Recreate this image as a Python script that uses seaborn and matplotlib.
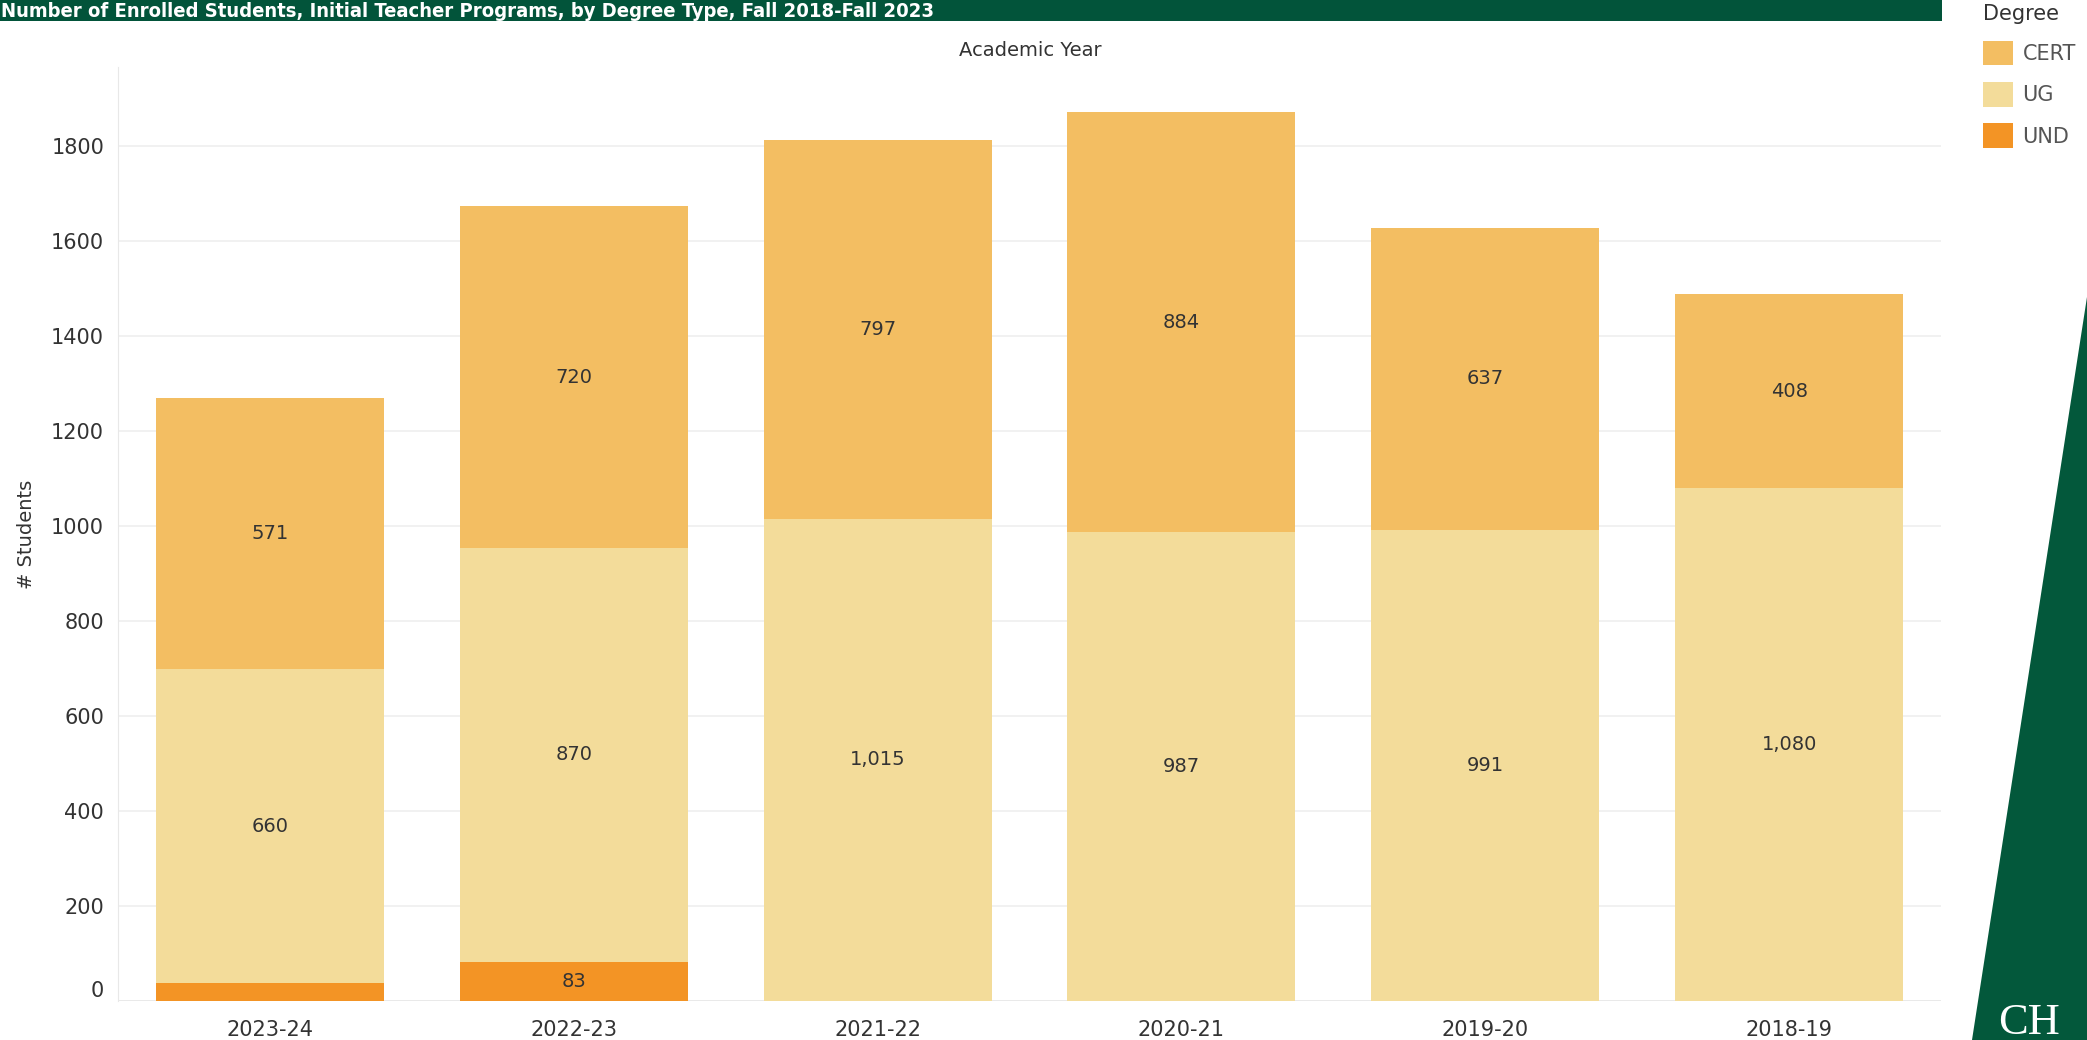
import matplotlib
matplotlib.use("Agg")
from matplotlib import pyplot as plt
from matplotlib.patches import Patch, Rectangle, Polygon
import numpy as np
import seaborn as sns

years = ["2023-24", "2022-23", "2021-22", "2020-21", "2019-20", "2018-19"]
und = [38, 83, 0, 0, 0, 0]
ug = [660, 870, 1015, 987, 991, 1080]
cert = [571, 720, 797, 884, 637, 408]
degrees = ["CERT", "UG", "UND"]
yticks = [0, 200, 400, 600, 800, 1000, 1200, 1400, 1600, 1800]

colors = {"CERT": "#F3BE62", "UG": "#F3DC9A", "UND": "#F39425"}
green = "#02543A"
text_col = "#333333"

sns.set_style("white")
plt.rcParams["font.family"] = ["DejaVu Sans"]

W, H = 2087, 1040
fig = plt.figure(figsize=(W / 100, H / 100), dpi=100)
ax = fig.add_axes([118 / W, 1 - 1001 / H, (1941 - 118) / W, (1001 - 67) / H])

und_a = np.array(und)
ug_a = np.array(ug)
cert_a = np.array(cert)
tops = und_a + ug_a + cert_a
mids = und_a + ug_a

# stacked bars by overlaying cumulative totals
sns.barplot(x=years, y=tops, color=colors["CERT"], width=0.75, saturation=1, ax=ax,
            zorder=3, edgecolor="none", linewidth=0)
sns.barplot(x=years, y=mids, color=colors["UG"], width=0.75, saturation=1, ax=ax,
            zorder=3, edgecolor="none", linewidth=0)
sns.barplot(x=years, y=und_a, color=colors["UND"], width=0.75, saturation=1, ax=ax,
            zorder=3, edgecolor="none", linewidth=0)

# segment labels
for i in range(len(years)):
    segs = [(und_a[i], 0), (ug_a[i], und_a[i]), (cert_a[i], mids[i])]
    for val, base in segs:
        if val > 60:
            ax.text(i, base + val / 2, f"{val:,}", ha="center", va="center",
                    fontsize=14, color=text_col, zorder=4)

ax.set_xlim(-0.5, 5.5)
ax.set_ylim(0, 1966)
ax.set_yticks(yticks)
ax.set_xlabel("")
ax.set_ylabel("# Students", fontsize=14, color=text_col)
ax.yaxis.set_label_coords(-0.045, 0.5)

ax.grid(axis="y", color="#EFEFEF", linewidth=1.2, zorder=0)
ax.grid(axis="x", visible=False)
for s in ["top", "right", "bottom"]:
    ax.spines[s].set_visible(False)
ax.spines["left"].set_color("#E8E8E8")
ax.spines["left"].set_zorder(1)
ax.axhline(0, color="#E8E8E8", linewidth=1.2, zorder=2)

ax.tick_params(axis="y", length=7, color="#EEEEEE", labelsize=15, labelcolor=text_col, pad=3)
ax.tick_params(axis="x", which="major", length=0, labelsize=15, labelcolor=text_col, pad=14)
ax.set_xticks(np.arange(-0.5, 6, 1), minor=True)
ax.tick_params(axis="x", which="minor", length=7, color="#E8E8E8", width=1.2)
# Tableau lifts the bottom "0" label off the baseline
ax.get_yticklabels()[0].set_va("bottom")

# header
fig.patches.append(Rectangle((0, 1 - 21 / H), 1942 / W, 21 / H, transform=fig.transFigure,
                             facecolor=green, edgecolor="none"))
fig.text(1 / W, 1 - 17 / H, "Number of Enrolled Students, Initial Teacher Programs, by Degree Type, Fall 2018-Fall 2023",
         ha="left", va="baseline", fontsize=14.5, fontweight="bold", color="white",
         family=["Liberation Sans Narrow", "DejaVu Sans"], fontstretch="condensed")
fig.text(1030 / W, 1 - 51 / H, "Academic Year", ha="center", va="center", fontsize=14, color=text_col)

# legend
handles = [Patch(facecolor=colors[d], edgecolor="none", label=d) for d in degrees]
leg = fig.legend(handles=handles, title="Degree", loc="upper left",
                 bbox_to_anchor=(1983 / W, 1 - 4 / H), frameon=False, fontsize=15,
                 title_fontsize=15, alignment="left", handlelength=1.45, handleheight=1.45,
                 labelspacing=0.8, handletextpad=0.45, borderpad=0, borderaxespad=0)
for t in leg.get_texts():
    t.set_color("#555555")
leg.get_title().set_color(text_col)

# green corner decoration
fig.patches.append(Polygon([(2087 / W, 1 - 297 / H), (1972 / W, 0), (1, 0)], closed=True,
                           transform=fig.transFigure, facecolor="#03583B", edgecolor="none"))
fig.text(1998 / W, 1 - 1003 / H, "CH", ha="left", va="top", fontsize=32, color="white",
         family=["Liberation Serif", "DejaVu Serif"])

fig.savefig("out.png", dpi=100)
